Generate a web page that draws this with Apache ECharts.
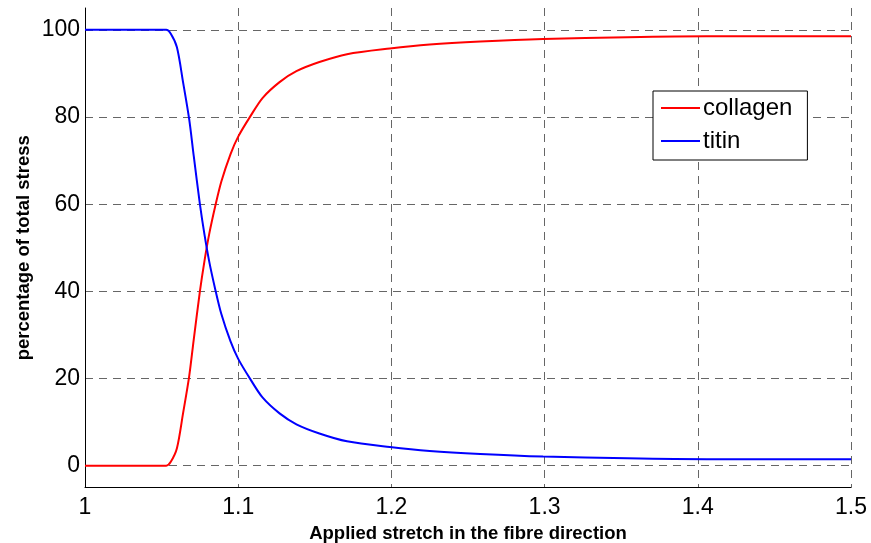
<!DOCTYPE html>
<html>
<head>
<meta charset="utf-8">
<script src="https://cdn.jsdelivr.net/npm/echarts@6/dist/echarts.min.js"></script>
<style>
html,body{margin:0;padding:0;background:#fff;}
#chart{width:871px;height:543px;}
</style>
</head>
<body>
<div id="chart"></div>
<script>
// ---- data ----
const stretch = [1.00, 1.053, 1.056, 1.060, 1.064, 1.068, 1.071, 1.075, 1.078, 1.081, 1.085, 1.089, 1.095, 1.100, 1.108, 1.116, 1.127, 1.138, 1.153, 1.171, 1.199, 1.225, 1.258, 1.299, 1.354, 1.406, 1.45, 1.50];
const collagen = [0, 0, 0.9, 4.0, 12, 20.5, 29, 40, 47, 53, 59.5, 65.2, 71.5, 75.5, 80.2, 84.4, 88.0, 90.5, 92.6, 94.4, 95.7, 96.6, 97.3, 97.9, 98.3, 98.5, 98.5, 98.5];
const titin = [100, 100, 99.1, 96, 88, 79.5, 71, 60, 53, 47, 40.5, 34.8, 28.5, 24.5, 19.8, 15.6, 12, 9.5, 7.4, 5.6, 4.3, 3.4, 2.7, 2.1, 1.7, 1.5, 1.5, 1.5];
const seriesNames = ['collagen', 'titin'];
const xTitle = 'Applied stretch in the fibre direction';
const yTitle = 'percentage of total stress';
const xMin = 1, xMax = 1.5, xStep = 0.1;
const yMin = -5, yMax = 105, yTickMin = 0, yTickMax = 100, yStep = 20;

// ---- layout ----
const W = 871, H = 543;
const g1 = {left: 85, right: 20, top: 8, bottom: 55.5};
const plotH = H - g1.top - g1.bottom;
const pxPerUnit = plotH / (yMax - yMin);
const g2 = {left: 85, right: 20,
  top: g1.top + (yMax - yTickMax) * pxPerUnit,
  bottom: g1.bottom + (yTickMin - yMin) * pxPerUnit};

const font = 'Liberation Sans, Arial, sans-serif';
const gridLine = {show: true, lineStyle: {color: '#666', type: [8, 6], width: 1}};

const chart = echarts.init(document.getElementById('chart'), null, {renderer: 'canvas'});
chart.setOption({
  animation: false,
  backgroundColor: '#fff',
  grid: [
    Object.assign({containLabel: false, outerBoundsMode: 'none'}, g1),
    Object.assign({containLabel: false, outerBoundsMode: 'none'}, g2)
  ],
  xAxis: [
    {type: 'value', gridIndex: 0, min: xMin, max: xMax, interval: xStep,
     axisLine: {show: true, onZero: false, lineStyle: {color: '#000', width: 1}},
     axisTick: {show: false},
     axisLabel: {color: '#000', fontSize: 23, fontFamily: font, margin: 9},
     splitLine: gridLine,
     name: xTitle, nameLocation: 'middle', nameGap: 29,
     nameTextStyle: {color: '#000', fontSize: 18.5, fontWeight: 'bold', fontFamily: font}},
    {type: 'value', gridIndex: 1, min: xMin, max: xMax, show: false}
  ],
  yAxis: [
    {type: 'value', gridIndex: 0, min: yMin, max: yMax,
     axisLine: {show: true, lineStyle: {color: '#000', width: 1}},
     axisTick: {show: false}, axisLabel: {show: false}, splitLine: {show: false},
     name: yTitle, nameLocation: 'middle', nameGap: 52,
     nameTextStyle: {color: '#000', fontSize: 18.5, fontWeight: 'bold', fontFamily: font}},
    {type: 'value', gridIndex: 1, min: yTickMin, max: yTickMax, interval: yStep,
     axisLine: {show: false}, axisTick: {show: false},
     axisLabel: {color: '#000', fontSize: 23, fontFamily: font, margin: 5},
     splitLine: gridLine}
  ],
  legend: {
    orient: 'vertical', left: 653, top: 91,
    padding: [5, 15, 7, 8], itemGap: 9,
    itemWidth: 39, itemHeight: 2, icon: 'rect',
    backgroundColor: '#fff', borderColor: '#000', borderWidth: 1, borderRadius: 0,
    textStyle: {color: '#000', fontSize: 24, fontFamily: font, padding: [0, 0, 0, -2]},
    data: seriesNames
  },
  series: [
    {name: seriesNames[0], type: 'line', xAxisIndex: 0, yAxisIndex: 0,
     data: stretch.map((s, i) => [s, collagen[i]]),
     showSymbol: false, smooth: 0.3, lineStyle: {color: '#ff0000', width: 2}, itemStyle: {color: '#ff0000'}},
    {name: seriesNames[1], type: 'line', xAxisIndex: 0, yAxisIndex: 0,
     data: stretch.map((s, i) => [s, titin[i]]),
     showSymbol: false, smooth: 0.3, lineStyle: {color: '#0000ff', width: 2}, itemStyle: {color: '#0000ff'}}
  ]
});
</script>
</body>
</html>
